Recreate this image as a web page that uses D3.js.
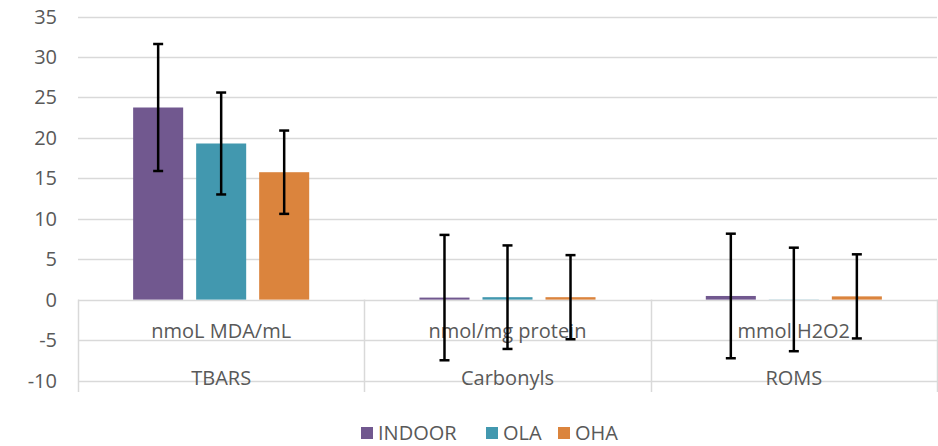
<!DOCTYPE html>
<html>
<head>
<meta charset="utf-8">
<script src="https://cdn.jsdelivr.net/npm/d3@7.8.5/dist/d3.min.js"></script>
<style>
  body { margin: 0; background: #fff; }
  svg { display: block; font-family: "Open Sans", "Liberation Sans", sans-serif; }
</style>
</head>
<body>
<div id="chart"></div>
<script>
// data
const categories = ['TBARS', 'Carbonyls', 'ROMS'];
const units = ['nmoL MDA/mL', 'nmol/mg protein', 'mmol H2O2'];
const series = ['INDOOR', 'OLA', 'OHA'];
const indoor = [23.75, 0.25, 0.45];
const indoorErr = [7.85, 7.75, 7.7];
const ola = [19.3, 0.3, 0.02];
const olaErr = [6.3, 6.4, 6.4];
const oha = [15.75, 0.3, 0.4];
const ohaErr = [5.15, 5.2, 5.2];
const yTicks = [-10, -5, 0, 5, 10, 15, 20, 25, 30, 35];

const colors = { INDOOR: '#71588f', OLA: '#4298af', OHA: '#db843d' };
const values = { INDOOR: indoor, OLA: ola, OHA: oha };
const errors = { INDOOR: indoorErr, OLA: olaErr, OHA: ohaErr };

const width = 938, height = 446;
const left = 78, right = 937;
const gridColor = '#d9d9d9';
const textColor = '#595959';
const fontSize = '20px';

const svg = d3.select('#chart').append('svg')
    .attr('width', width)
    .attr('height', height);

const y = d3.scaleLinear().domain([-10, 35]).range([380.5, 16.5]);
const x0 = d3.scaleBand().domain(categories).range([left, right]);
const x1 = d3.scaleBand().domain(series)
    .range([0, x0.bandwidth()])
    .paddingInner(0.206)
    .paddingOuter(0.875);

// Gridlines
svg.append('g')
    .selectAll('line')
    .data(yTicks)
    .join('line')
    .attr('x1', left)
    .attr('x2', right)
    .attr('y1', d => Math.round(y(d)) + 0.5)
    .attr('y2', d => Math.round(y(d)) + 0.5)
    .style('stroke', gridColor)
    .style('stroke-width', '1.5px');

// y tick labels
svg.append('g')
    .selectAll('text')
    .data(yTicks)
    .join('text')
    .attr('x', 57)
    .attr('y', d => y(d))
    .attr('dy', '0.35em')
    .attr('text-anchor', 'end')
    .style('fill', textColor)
    .style('font-size', fontSize)
    .text(d => d);

// Category separators (multi-level axis)
const sepX = categories.map(c => x0(c)).concat([right]);
svg.append('g')
    .selectAll('line')
    .data(sepX)
    .join('line')
    .attr('x1', d => Math.round(d) + 0.5)
    .attr('x2', d => Math.round(d) + 0.5)
    .attr('y1', y(0))
    .attr('y2', 392)
    .style('stroke', gridColor)
    .style('stroke-width', '1.5px');

// Unit labels and category labels
svg.append('g')
    .selectAll('text')
    .data(units)
    .join('text')
    .attr('x', (d, i) => x0(categories[i]) + x0.bandwidth() / 2)
    .attr('y', 338)
    .attr('text-anchor', 'middle')
    .style('fill', textColor)
    .style('font-size', fontSize)
    .text(d => d);

svg.append('g')
    .selectAll('text')
    .data(categories)
    .join('text')
    .attr('x', d => x0(d) + x0.bandwidth() / 2)
    .attr('y', 385)
    .attr('text-anchor', 'middle')
    .style('fill', textColor)
    .style('font-size', fontSize)
    .text(d => d);

// Bars
const rows = [];
categories.forEach((c, i) => {
    series.forEach(s => {
        rows.push({ cat: c, s: s, v: values[s][i], e: errors[s][i] });
    });
});

const groups = svg.append('g')
    .selectAll('g')
    .data(rows)
    .join('g')
    .attr('transform', d => `translate(${x0(d.cat) + x1(d.s)},0)`);

groups.append('rect')
    .attr('x', 0)
    .attr('width', x1.bandwidth())
    .attr('y', d => y(d.v))
    .attr('height', d => y(0) - y(d.v))
    .style('fill', d => colors[d.s]);

// Error bars
const cx = x1.bandwidth() / 2;
const cap = 5;
groups.append('line')
    .attr('x1', cx).attr('x2', cx)
    .attr('y1', d => y(d.v + d.e))
    .attr('y2', d => y(d.v - d.e))
    .style('stroke', '#000')
    .style('stroke-width', '2.5px');

groups.append('line')
    .attr('x1', cx - cap).attr('x2', cx + cap)
    .attr('y1', d => y(d.v + d.e))
    .attr('y2', d => y(d.v + d.e))
    .style('stroke', '#000')
    .style('stroke-width', '2.5px');

groups.append('line')
    .attr('x1', cx - cap).attr('x2', cx + cap)
    .attr('y1', d => y(d.v - d.e))
    .attr('y2', d => y(d.v - d.e))
    .style('stroke', '#000')
    .style('stroke-width', '2.5px');

// Legend
const legendX = [361, 486, 558];
const legend = svg.append('g')
    .selectAll('g')
    .data(series)
    .join('g')
    .attr('transform', (d, i) => `translate(${legendX[i]},427)`);

legend.append('rect')
    .attr('width', 12)
    .attr('height', 12)
    .style('fill', d => colors[d]);

legend.append('text')
    .attr('x', 17)
    .attr('y', 6)
    .attr('dy', '0.35em')
    .style('fill', textColor)
    .style('font-size', fontSize)
    .text(d => d);
</script>
</body>
</html>
